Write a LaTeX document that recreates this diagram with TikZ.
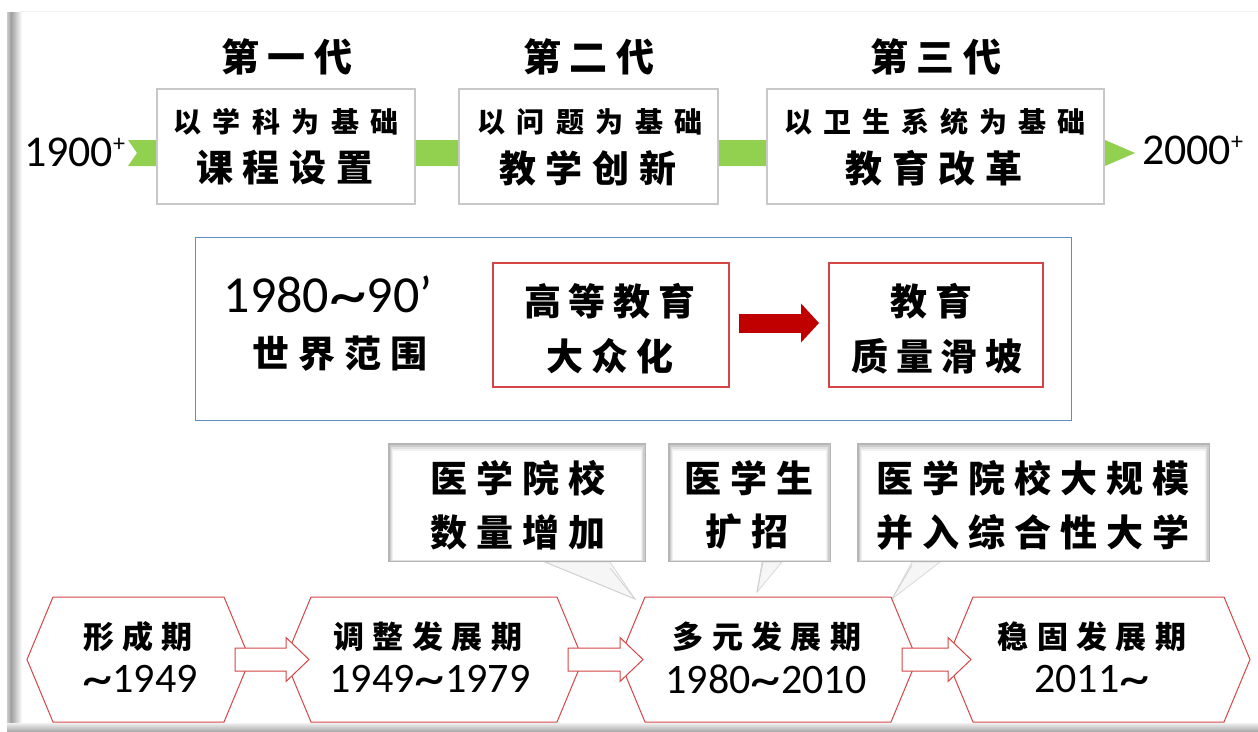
\documentclass[tikz,border=0pt]{standalone}
\usepackage{fontspec}
\usepackage{graphicx}
\setmainfont{Carlito}
\newfontfamily\cjk{Noto Sans CJK SC}
\usetikzlibrary{calc,arrows.meta}
\definecolor{lgreen}{RGB}{146,208,80}
\definecolor{boxred}{RGB}{212,70,70}
\definecolor{arrred}{RGB}{192,0,0}
\definecolor{boxblue}{RGB}{95,140,195}
\definecolor{boxgray}{RGB}{200,200,200}
\newcommand\spk{}
\newcommand\spaced[2]{\def\spk{#1}\spfirst#2\relax}
\def\spfirst#1{#1\spnext}
\def\spnext#1{\ifx#1\relax\else\hspace{\spk}#1\expandafter\spnext\fi}
\newcommand\cj[3]{{\cjk\bfseries\fontsize{#1pt}{#1pt}\selectfont\spaced{#2pt}{#3}}}
\newcommand\num[2]{{\fontsize{#1pt}{#1pt}\selectfont #2}}
\newcommand\tld{\raisebox{-0.09em}{\scalebox{1.45}[1.3]{\textasciitilde}}}
\newcommand\plussup{\raisebox{15pt}{\fontsize{24pt}{24pt}\selectfont +}}
\tikzset{
  txt/.style={inner sep=0pt, outer sep=0pt},
  graybox/.style={draw=boxgray, line width=1.5pt, fill=white, inner sep=0pt, outer sep=0pt, minimum height=115pt},
  redbox/.style={draw=boxred, line width=1.3pt, fill=white, inner sep=0pt, outer sep=0pt, minimum height=124pt},
  hexbody/.style={inner sep=0pt, outer sep=0pt, minimum height=125pt},
  hexline/.style={draw=boxred, line width=1pt, fill=white, line join=miter},
  blockarrow/.style={draw=boxred, line width=1pt, fill=white},
  cbox/.style={inner sep=0pt, outer sep=0pt, minimum height=119pt},
  tail/.style={fill=gray!7, draw=gray!30, line width=0.8pt},
}
\newcommand\hexdraw[1]{%
  \draw[hexline] (#1.north west) -- (#1.north east) -- ($(#1.east)+(26,0)$) -- (#1.south east)
    -- (#1.south west) -- ($(#1.west)+(-26,0)$) -- cycle;}
\newcommand\blockarr[2]{%
  \draw[blockarrow] ($(#1.east)+(11,-11.5)$) -- ($(#2.west)+(-25,-11.5)$) -- ($(#2.west)+(-25,-22)$)
    -- ($(#2.west)+(-2,0)$) -- ($(#2.west)+(-25,22)$) -- ($(#2.west)+(-25,11.5)$)
    -- ($(#1.east)+(11,11.5)$) -- cycle;}
\newcommand\frameit[1]{%
  \fill[gray!58] (#1.north west) rectangle (#1.south east);
  \fill[gray!40] ($(#1.north west)+(1.5,2)$) rectangle ($(#1.south east)+(-1.5,-0.6)$);
  \fill[gray!24] ($(#1.north west)+(3,4)$) rectangle ($(#1.south east)+(-3,-1.2)$);
  \fill[gray!11] ($(#1.north west)+(4,6)$) rectangle ($(#1.south east)+(-4,-1.6)$);
  \fill[white] ($(#1.north west)+(5,8)$) rectangle ($(#1.south east)+(-5,-2)$);}
\begin{document}
\begin{tikzpicture}[x=1pt,y=-1pt]
\useasboundingbox (0,0) rectangle (1258,731);
\fill[white] (0,0) rectangle (1258,731);
% slide frame
\draw[gray!10, line width=1pt] (20,11.5) -- (1258,11.5);
\shade[left color=gray!40, right color=gray!75] (7,12) rectangle (11,731);
\shade[left color=gray!75, right color=white] (11,12) rectangle (22,731);
\shade[top color=gray!12, bottom color=gray!65] (7,723) rectangle (1258,731);

% ===== top timeline =====
\node[txt, anchor=base west] (y1900) at (24,166) {\num{44}{1900}\plussup};
\node[txt, anchor=base west] (y2000) at (1142,164) {\num{44}{2000}\plussup};
\coordinate (gs) at (128,153);
\coordinate (ge) at (1135,153);
\fill[lgreen] ($(gs)+(0,-13)$) -- ($(ge)+(-30,-13)$) -- (ge) -- ($(ge)+(-30,13)$)
  -- ($(gs)+(0,13)$) -- ($(gs)+(9,0)$) -- cycle;

\node[graybox, minimum width=258pt] (b1) at (286,146.5) {};
\node[graybox, minimum width=259pt] (b2) at (588.5,146.5) {};
\node[graybox, minimum width=337pt] (b3) at (935.5,146.5) {};

\node[txt] (t1) at (287,57) {\cj{38}{8.5}{第一代}};
\node[txt] (t2) at (589,57) {\cj{38}{8.5}{第二代}};
\node[txt] (t3) at (936,57) {\cj{38}{8.5}{第三代}};

\node[txt] (b1a) at (286,122) {\cj{28}{11.5}{以学科为基础}};
\node[txt] (b1b) at (285,168) {\cj{37}{10}{课程设置}};
\node[txt] (b2a) at (590,122) {\cj{28}{11.5}{以问题为基础}};
\node[txt] (b2b) at (588,168) {\cj{37}{10}{教学创新}};
\node[txt] (b3a) at (935,122) {\cj{28}{11}{以卫生系统为基础}};
\node[txt] (b3b) at (934,168) {\cj{37}{10}{教育改革}};

% ===== middle block =====
\node[draw=boxblue, line width=1pt, inner sep=0pt, minimum width=876pt, minimum height=183pt] (blue) at (633,328.5) {};
\node[txt] (yr) at (328,296.5) {\num{52}{1980\tld 90’}};
\node[txt] (world) at (340,354) {\cj{37}{9}{世界范围}};
\node[redbox, minimum width=236pt] (r1) at (611,325) {};
\node[redbox, minimum width=214pt] (r2) at (936,325) {};
\node[txt] (r1a) at (610,301) {\cj{37}{8}{高等教育}};
\node[txt] (r1b) at (610,356) {\cj{37}{8}{大众化}};
\node[txt] (r2a) at (931,301) {\cj{37}{8}{教育}};
\node[txt] (r2b) at (937,356) {\cj{37}{8}{质量滑坡}};
\draw[arrred, line width=19pt, -{Triangle[length=18pt, width=38pt]}]
  ($(r1.east)+(10,-2)$) -- ($(r2.west)+(-10,-2)$);

% ===== callouts =====
\coordinate (tip1) at (635,599);
\coordinate (tip2) at (757,592);
\coordinate (tip3) at (892,599);
\fill[tail] (545,562) -- (tip1) -- (610,562) -- cycle;
\fill[tail] (762,562) -- (tip2) -- (782,562) -- cycle;
\fill[tail] (912,562) -- (tip3) -- (940,562) -- cycle;
\draw[gray!35, line width=0.8pt] (545,562) -- (tip1) -- (610,568);
\draw[gray!40, line width=0.8pt] (763,562) -- (tip2);
\draw[gray!35, line width=0.8pt] (912,565) -- (tip3);

\node[cbox, minimum width=258pt] (c1) at (517,502.5) {};
\node[cbox, minimum width=163pt] (c2) at (749.5,502.5) {};
\node[cbox, minimum width=353pt] (c3) at (1033.5,502.5) {};
\frameit{c1}
\frameit{c2}
\frameit{c3}
\node[txt] (c1a) at (518,478) {\cj{37}{9}{医学院校}};
\node[txt] (c1b) at (518,532) {\cj{37}{9}{数量增加}};
\node[txt] (c2a) at (749,478) {\cj{37}{9}{医学生}};
\node[txt] (c2b) at (747,532) {\cj{37}{9}{扩招}};
\node[txt] (c3a) at (1033,478) {\cj{37}{9}{医学院校大规模}};
\node[txt] (c3b) at (1033,532) {\cj{37}{9}{并入综合性大学}};

% ===== bottom hexagons =====
\node[hexbody, minimum width=171pt] (h1) at (138.5,659.5) {};
\node[hexbody, minimum width=246pt] (h2) at (434,659.5) {};
\node[hexbody, minimum width=246pt] (h3) at (768,659.5) {};
\node[hexbody, minimum width=251pt] (h4) at (1098.5,659.5) {};
\hexdraw{h1}
\hexdraw{h2}
\hexdraw{h3}
\hexdraw{h4}
\blockarr{h1}{h2}
\blockarr{h2}{h3}
\blockarr{h3}{h4}
\node[txt] (h1a) at (138,637) {\cj{31}{8.5}{形成期}};
\node[txt] (h1b) at (140,681) {\num{42}{\tld 1949}};
\node[txt] (h2a) at (428,637) {\cj{31}{8.5}{调整发展期}};
\node[txt] (h2b) at (430,681) {\num{42}{1949\tld 1979}};
\node[txt] (h3a) at (767,637) {\cj{31}{8.5}{多元发展期}};
\node[txt] (h3b) at (766,681) {\num{42}{1980\tld 2010}};
\node[txt] (h4a) at (1092,637) {\cj{31}{8.5}{稳固发展期}};
\node[txt] (h4b) at (1092,681) {\num{42}{2011\tld}};
\end{tikzpicture}
\end{document}
